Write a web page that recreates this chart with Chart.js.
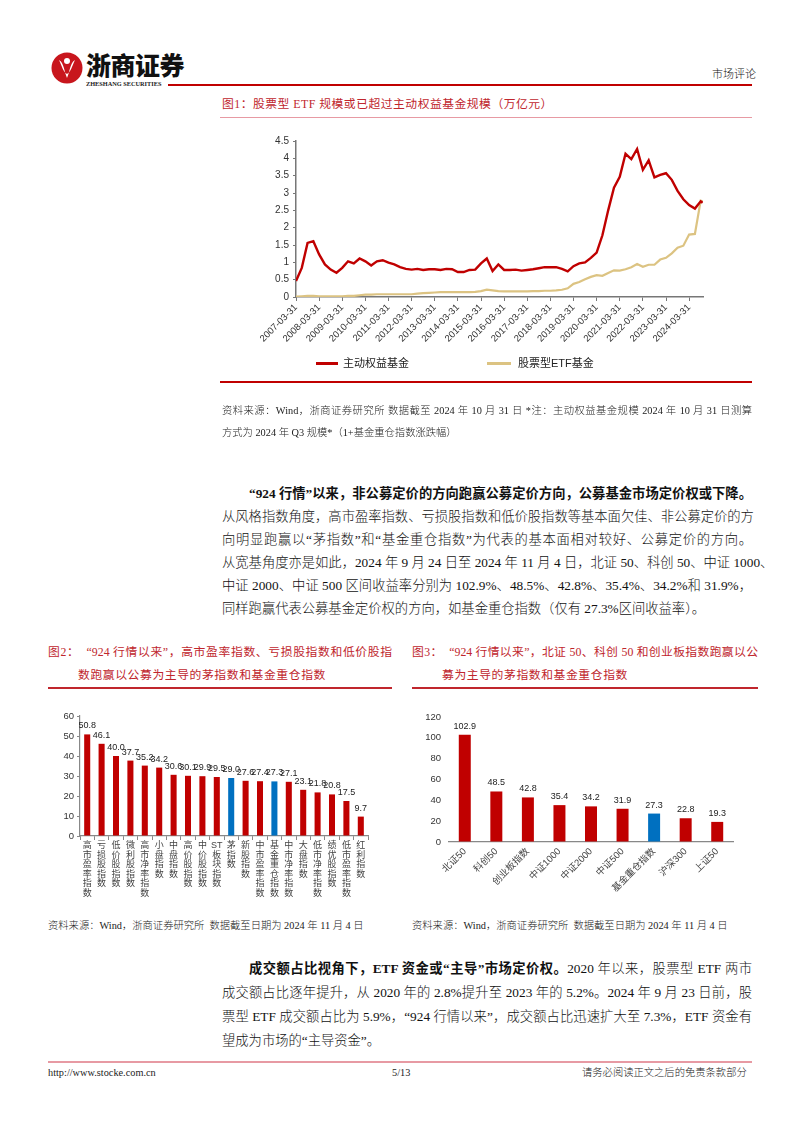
<!DOCTYPE html>
<html>
<head>
<meta charset="utf-8">
<script src="https://cdn.jsdelivr.net/npm/chart.js@4.4.0/dist/chart.umd.min.js"></script>
<style>
body{margin:0;background:#fff;}
#page{position:relative;width:802px;height:1133px;overflow:hidden;background:#fff;
  font-family:"Liberation Serif","Noto Sans CJK SC",serif;color:#111;}
.a{position:absolute;white-space:nowrap;}
.j{position:absolute;white-space:nowrap;text-align:justify;text-align-last:justify;}
.rule{position:absolute;}
.cv{position:absolute;}
.body{font-size:13.3px;line-height:23px;font-weight:300;}
.body b{font-weight:700;}
.fig{font-size:11.8px;line-height:23px;color:#c0262d;}
.src{font-size:10.3px;line-height:20px;color:#222;font-weight:300;}
.leg{font-family:"Liberation Sans","Noto Sans CJK SC",sans-serif;font-size:11px;color:#222;}
</style>
</head>
<body>
<div id="page">
  <!-- header -->
  <svg class="a" style="left:50px;top:51px" width="34" height="34" viewBox="0 0 34 34">
    <circle cx="17" cy="17" r="15.5" fill="#c8161d"/>
    <path d="M9 9 C14 12,14 20,17 27 C20 20,20 12,25 9 C22 15,21 21,17 23 C13 21,12 15,9 9Z" fill="#fff"/>
    <circle cx="17" cy="10" r="3" fill="#fff"/>
  </svg>
  <div class="a" style="left:86px;top:49px;font-family:'Noto Sans CJK SC';font-weight:900;font-size:25px;line-height:30px;color:#111;letter-spacing:-0.5px">浙商证券</div>
  <div class="a" style="left:86px;top:80px;font-family:'Liberation Serif';font-weight:700;font-size:6.3px;line-height:8px;color:#222">ZHESHANG SECURITIES</div>
  <div class="rule" style="left:168px;top:84px;width:584px;height:2px;background:#c00000"></div>
  <div class="a" style="left:712px;top:66px;font-size:11px;line-height:16px;font-weight:300">市场评论</div>

  <!-- figure 1 -->
  <div class="a fig" style="left:222px;top:93px;letter-spacing:0.5px">图1：股票型 ETF 规模或已超过主动权益基金规模（万亿元）</div>
  <div class="rule" style="left:220px;top:117px;width:532px;height:1px;background:#e79aa3"></div>
  <div class="cv" style="left:222px;top:130px"><canvas id="c1" width="520" height="230"></canvas></div>
  <div class="rule" style="left:316px;top:362px;width:22px;height:3px;background:#c00000"></div>
  <div class="a leg" style="left:343px;top:355px;line-height:16px">主动权益基金</div>
  <div class="rule" style="left:487px;top:362px;width:24px;height:3px;background:#dcc382"></div>
  <div class="a leg" style="left:518px;top:355px;line-height:16px">股票型ETF基金</div>
  <div class="rule" style="left:220px;top:381px;width:532px;height:2px;background:#c00000"></div>
  <div class="j src" style="left:222px;top:401px;width:530px">资料来源：Wind，浙商证券研究所 数据截至 2024 年 10 月 31 日 *注：主动权益基金规模 2024 年 10 月 31 日测算</div>
  <div class="a src" style="left:222px;top:423px">方式为 2024 年 Q3 规模*（1+基金重仓指数涨跌幅）</div>

  <!-- paragraph 1 -->
  <div class="j body" style="left:249px;top:482px;width:503px"><b>“924 行情”以来，非公募定价的方向跑赢公募定价方向，公募基金市场定价权或下降。</b></div>
  <div class="j body" style="left:222px;top:505px;width:530px">从风格指数角度，高市盈率指数、亏损股指数和低价股指数等基本面欠佳、非公募定价的方</div>
  <div class="j body" style="left:222px;top:528px;width:530px">向明显跑赢以“茅指数”和“基金重仓指数”为代表的基本面相对较好、公募定价的方向。</div>
  <div class="j body" style="left:222px;top:551px;width:530px">从宽基角度亦是如此，2024 年 9 月 24 日至 2024 年 11 月 4 日，北证 50、科创 50、中证 1000、</div>
  <div class="j body" style="left:222px;top:574px;width:530px">中证 2000、中证 500 区间收益率分别为 102.9%、48.5%、42.8%、35.4%、34.2%和 31.9%，</div>
  <div class="a body" style="left:222px;top:597px">同样跑赢代表公募基金定价权的方向，如基金重仓指数（仅有 27.3%区间收益率）。</div>

  <!-- figure 2 -->
  <div class="j fig" style="left:48px;top:641px;width:344px">图2：&nbsp;&nbsp;“924 行情以来”，高市盈率指数、亏损股指数和低价股指</div>
  <div class="a fig" style="left:78px;top:664px;letter-spacing:0.6px">数跑赢以公募为主导的茅指数和基金重仓指数</div>
  <div class="rule" style="left:48px;top:687px;width:344px;height:1.5px;background:#c0262d"></div>
  <div class="cv" style="left:40px;top:700px"><canvas id="c2" width="340" height="200"></canvas></div>
  <div class="a src" style="left:48px;top:916px">资料来源：Wind，浙商证券研究所&nbsp; 数据截至日期为 2024 年 11 月 4 日</div>

  <!-- figure 3 -->
  <div class="j fig" style="left:412px;top:641px;width:346px">图3：&nbsp;&nbsp;“924 行情以来”，北证 50、科创 50 和创业板指数跑赢以公</div>
  <div class="a fig" style="left:442px;top:664px;letter-spacing:0.6px">募为主导的茅指数和基金重仓指数</div>
  <div class="rule" style="left:412px;top:687px;width:346px;height:1.5px;background:#c0262d"></div>
  <div class="cv" style="left:405px;top:700px"><canvas id="c3" width="345" height="200"></canvas></div>
  <div class="a src" style="left:412px;top:916px">资料来源：Wind，浙商证券研究所&nbsp; 数据截至日期为 2024 年 11 月 4 日</div>

  <!-- paragraph 2 -->
  <div class="j body" style="left:249px;top:957px;width:503px"><b>成交额占比视角下，ETF 资金或“主导”市场定价权。</b>2020 年以来，股票型 ETF 两市</div>
  <div class="j body" style="left:222px;top:981px;width:530px">成交额占比逐年提升，从 2020 年的 2.8%提升至 2023 年的 5.2%。2024 年 9 月 23 日前，股</div>
  <div class="j body" style="left:222px;top:1005px;width:530px">票型 ETF 成交额占比为 5.9%，“924 行情以来”，成交额占比迅速扩大至 7.3%，ETF 资金有</div>
  <div class="a body" style="left:222px;top:1029px">望成为市场的“主导资金”。</div>

  <!-- footer -->
  <div class="rule" style="left:48px;top:1061px;width:704px;height:1.5px;background:#e79aa3"></div>
  <div class="a src" style="left:48px;top:1063px">http://www.stocke.com.cn</div>
  <div class="a src" style="left:392px;top:1063px">5/13</div>
  <div class="a src" style="left:582px;top:1063px">请务必阅读正文之后的免责条款部分</div>
</div>

<script>
// ---- figure 1: quarterly scale, 万亿元 ----
const fundDates = [];
for (let y = 2007; y <= 2024; y++) {
  ['03-31', '06-30', '09-30', '12-31'].forEach(md => fundDates.push(y + '-' + md));
}
fundDates.splice(fundDates.length - 1, 1, '2024-10-31');

const activeFund = [
  0.46, 0.84, 1.56, 1.61,
  1.23, 0.94, 0.79, 0.70,
  0.84, 1.03, 0.97, 1.11,
  1.03, 0.91, 1.03, 1.06,
  0.99, 0.94, 0.86, 0.81,
  0.79, 0.81, 0.78, 0.80,
  0.80, 0.78, 0.81, 0.80,
  0.72, 0.72, 0.78, 0.79,
  0.97, 1.11, 0.75, 0.94,
  0.78, 0.78, 0.79, 0.76,
  0.78, 0.80, 0.83, 0.86,
  0.86, 0.86, 0.81, 0.74,
  0.89, 0.97, 1.00, 1.13,
  1.28, 1.78, 2.50, 3.15,
  3.47, 4.13, 3.98, 4.27,
  3.67, 3.94, 3.45, 3.52,
  3.57, 3.38, 3.06, 2.82,
  2.65, 2.55, 2.76, 2.72
];
const etfFund = [
  0.01, 0.02, 0.03, 0.03,
  0.02, 0.02, 0.02, 0.02,
  0.02, 0.03, 0.03, 0.05,
  0.07, 0.07, 0.08, 0.08,
  0.08, 0.08, 0.08, 0.08,
  0.08, 0.10, 0.11, 0.12,
  0.13, 0.14, 0.14, 0.14,
  0.14, 0.14, 0.14, 0.15,
  0.17, 0.21, 0.19, 0.17,
  0.16, 0.16, 0.16, 0.16,
  0.16, 0.17, 0.17, 0.18,
  0.18, 0.19, 0.21, 0.25,
  0.38, 0.43, 0.51, 0.58,
  0.63, 0.61, 0.69, 0.77,
  0.76, 0.80, 0.86, 0.95,
  0.87, 0.93, 0.93, 1.08,
  1.13, 1.26, 1.42, 1.48,
  1.80, 1.82, 2.78, 2.76
];
const fundYTicks = ['0', '0.5', '1', '1.5', '2', '2.5', '3', '3.5', '4', '4.5'];

// ---- figure 2: style indices since 924 (%) ----
const styleNames = ['高市盈率指数', '亏损股指数', '低价股指数', '微利股指数', '高市净率指数', '小盘指数',
  '中盘指数', '高价股指数', '中价股指数', 'ST板块指数', '茅指数', '新股指数', '中市盈率指数',
  '基金重仓指数', '中市净率指数', '大盘指数', '低市净率指数', '绩优股指数', '低市盈率指数', '红利指数'];
const styleReturns = [50.8, 46.1, 40.0, 37.7, 35.2, 34.2, 30.6, 30.1, 29.9, 29.5, 29.0, 27.6, 27.4,
  27.3, 27.1, 23.1, 21.8, 20.8, 17.5, 9.7];
const styleHighlight = ['茅指数', '基金重仓指数'];

// ---- figure 3: broad indices since 924 (%) ----
const broadNames = ['北证50', '科创50', '创业板指数', '中证1000', '中证2000', '中证500', '基金重仓指数', '沪深300', '上证50'];
const broadReturns = [102.9, 48.5, 42.8, 35.4, 34.2, 31.9, 27.3, 22.8, 19.3];
const broadHighlight = ['基金重仓指数'];

const RED = '#c00000';
const BLUE = '#0070c0';
const GOLD = '#dcc382';
const SANS = '"Liberation Sans", "Noto Sans CJK SC", sans-serif';
Chart.defaults.font.family = SANS;
Chart.defaults.color = '#333';
Chart.defaults.animation = false;

function quarterPos(d) {
  const y = +d.slice(0, 4), m = +d.slice(5, 7);
  return (y - 2007) * 4 + (m - 3) / 3;
}

new Chart(document.getElementById('c1'), {
  type: 'line',
  data: {
    datasets: [
      {label: '主动权益基金', data: fundDates.map((d, i) => ({x: quarterPos(d), y: activeFund[i]})),
        borderColor: RED, borderWidth: 2.4, pointRadius: 0, tension: 0},
      {label: '股票型ETF基金', data: fundDates.map((d, i) => ({x: quarterPos(d), y: etfFund[i]})),
        borderColor: GOLD, borderWidth: 2.2, pointRadius: 0, tension: 0}
    ]
  },
  options: {
    responsive: false,
    layout: {padding: {top: 11, right: 39, left: 0, bottom: 0}},
    plugins: {legend: {display: false}, tooltip: {enabled: false}},
    scales: {
      x: {
        type: 'linear', min: 0, max: 70.4,
        afterFit: s => { s.height = 63; },
        grid: {drawOnChartArea: false, tickLength: 4, color: '#777'},
        border: {color: '#777', width: 1.5},
        ticks: {
          stepSize: 4, includeBounds: false, autoSkip: false, maxRotation: 45, minRotation: 45,
          font: {size: 9.5}, padding: 1,
          callback: v => { const d = fundDates.find(x => quarterPos(x) === v); return d || ''; }
        }
      },
      y: {
        min: 0, max: 4.5,
        afterFit: s => { s.width = 74; },
        grid: {drawOnChartArea: false, tickLength: 3, color: '#777'},
        border: {color: '#777', width: 1.5},
        ticks: {stepSize: 0.5, font: {size: 10}, padding: 4, callback: (v, i) => fundYTicks[i]}
      }
    }
  }
});

const valueLabels = {
  id: 'valueLabels',
  afterDatasetsDraw(chart) {
    const ctx = chart.ctx;
    const ds = chart.data.datasets[0];
    ctx.save();
    ctx.font = '9px ' + SANS;
    ctx.fillStyle = '#222';
    ctx.textAlign = 'center';
    ctx.textBaseline = 'bottom';
    chart.getDatasetMeta(0).data.forEach((bar, i) => {
      ctx.fillText(ds.data[i].toFixed(1), bar.x, bar.y - 4);
    });
    ctx.restore();
  }
};

function stackChars(s) {
  return s.match(/[A-Za-z0-9]+|./g);
}

new Chart(document.getElementById('c2'), {
  type: 'bar',
  data: {
    labels: styleNames.map(stackChars),
    datasets: [{
      data: styleReturns,
      backgroundColor: styleNames.map(n => styleHighlight.includes(n) ? BLUE : RED),
      barPercentage: 0.42, categoryPercentage: 1
    }]
  },
  options: {
    responsive: false,
    layout: {padding: {top: 16, right: 12, left: 0, bottom: 0}},
    plugins: {legend: {display: false}, tooltip: {enabled: false}},
    scales: {
      x: {
        afterFit: s => { s.height = 64; },
        grid: {offset: true, drawOnChartArea: false, tickLength: 4, color: '#888'},
        border: {color: '#888', width: 1.2},
        ticks: {autoSkip: false, maxRotation: 0, font: {size: 9, lineHeight: 1.06}, padding: 1, color: '#444'}
      },
      y: {
        min: 0, max: 60,
        afterFit: s => { s.width = 40; },
        grid: {drawOnChartArea: false, tickLength: 3, color: '#888'},
        border: {color: '#888', width: 1.2},
        ticks: {stepSize: 10, font: {size: 9.5}, padding: 3}
      }
    }
  },
  plugins: [valueLabels]
});

new Chart(document.getElementById('c3'), {
  type: 'bar',
  data: {
    labels: broadNames,
    datasets: [{
      data: broadReturns,
      backgroundColor: broadNames.map(n => broadHighlight.includes(n) ? BLUE : RED),
      barPercentage: 0.38, categoryPercentage: 1
    }]
  },
  options: {
    responsive: false,
    layout: {padding: {top: 17, right: 17, left: 0, bottom: 0}},
    plugins: {legend: {display: false}, tooltip: {enabled: false}},
    scales: {
      x: {
        afterFit: s => { s.height = 58; },
        grid: {offset: true, drawOnChartArea: false, drawTicks: false},
        border: {color: '#888', width: 1.2},
        ticks: {autoSkip: false, maxRotation: 45, minRotation: 45, font: {size: 9.5}, padding: 4, color: '#444'}
      },
      y: {
        min: 0, max: 120,
        afterFit: s => { s.width = 44; },
        grid: {drawOnChartArea: false, drawTicks: false},
        border: {display: false},
        ticks: {stepSize: 20, font: {size: 9.5}, padding: 8}
      }
    }
  },
  plugins: [valueLabels]
});
</script>
</body>
</html>
